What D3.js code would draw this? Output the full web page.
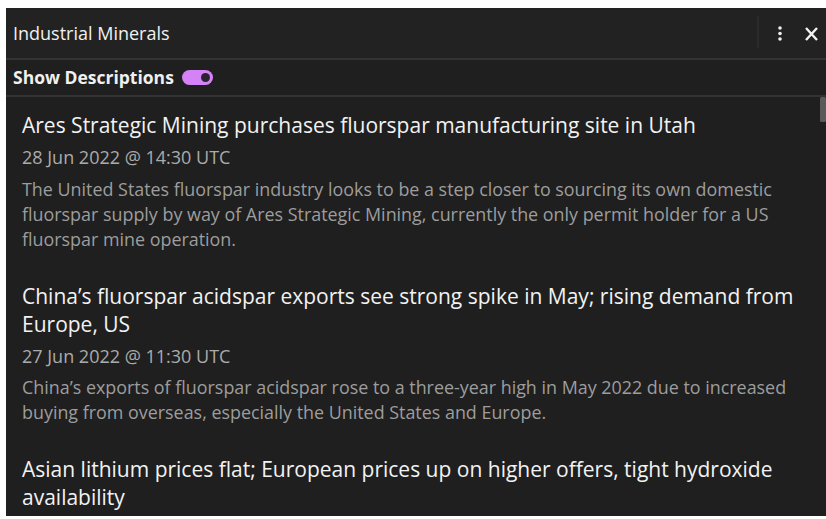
<!DOCTYPE html>
<html>
<head>
<meta charset="utf-8">
<script src="https://cdn.jsdelivr.net/npm/d3@7"></script>
<style>
  html, body { margin: 0; padding: 0; background: #fff; }
  svg { display: block; }
  text { font-family: "Open Sans", "Noto Sans", sans-serif; }
</style>
</head>
<body>
<svg id="panel" width="826" height="519"></svg>
<script>
// panel content
const panelTitle = 'Industrial Minerals';
const toggleLabel = 'Show Descriptions';

const headlines = [
    ['Ares Strategic Mining purchases fluorspar manufacturing site in Utah'],
    ['China\u2019s fluorspar acidspar exports see strong spike in May; rising demand from', 'Europe, US'],
    ['Asian lithium prices flat; European prices up on higher offers, tight hydroxide', 'availability']
];
const dates = ['28 Jun 2022 @ 14:30 UTC', '27 Jun 2022 @ 11:30 UTC', ''];
const descriptions = [
    ['The United States fluorspar industry looks to be a step closer to sourcing its own domestic',
     'fluorspar supply by way of Ares Strategic Mining, currently the only permit holder for a US',
     'fluorspar mine operation.'],
    ['China\u2019s exports of fluorspar acidspar rose to a three-year high in May 2022 due to increased',
     'buying from overseas, especially the United States and Europe.'],
    []
];

const svg = d3.select('#panel');

// outer frame
svg.append('rect').attr('x', 6).attr('y', 8).attr('width', 820).attr('height', 508).attr('fill', '#1f1f1f');

// header bar
svg.append('rect').attr('x', 6).attr('y', 8).attr('width', 820).attr('height', 51).attr('fill', '#222222');
svg.append('line').attr('x1', 6).attr('x2', 826).attr('y1', 59).attr('y2', 59).attr('stroke', '#333').attr('stroke-width', 2);
svg.append('line').attr('x1', 6).attr('x2', 826).attr('y1', 96).attr('y2', 96).attr('stroke', '#333').attr('stroke-width', 2);
svg.append('line').attr('x1', 758).attr('x2', 758).attr('y1', 16).attr('y2', 48).attr('stroke', '#2e2e2e').attr('stroke-width', 1.5);

svg.append('text').attr('x', 13).attr('y', 40).attr('fill', '#f0f0f0')
    .attr('font-size', 18).text(panelTitle);

// kebab menu dots
svg.append('g').selectAll('circle').data([0, 1, 2]).enter().append('circle')
    .attr('cx', 780).attr('cy', d => 28 + d * 5.5).attr('r', 1.8).attr('fill', '#eee');

// close icon
svg.append('path').attr('d', 'M806,28 L817,40 M817,28 L806,40')
    .attr('stroke', '#f2f2f2').attr('stroke-width', 2.4).attr('fill', 'none');

// toggle row
svg.append('text').attr('x', 13).attr('y', 84).attr('fill', '#f0f0f0')
    .attr('font-size', 17.5).attr('font-weight', 700).text(toggleLabel);
svg.append('rect').attr('x', 182).attr('y', 70).attr('width', 31).attr('height', 15).attr('rx', 7.5)
    .attr('fill', '#d482f5');
svg.append('circle').attr('cx', 205.5).attr('cy', 77.5).attr('r', 4.5).attr('fill', '#2a2230');

// scrollbar thumb
svg.append('rect').attr('x', 820).attr('y', 97).attr('width', 6).attr('height', 25).attr('rx', 1.5).attr('fill', '#5a5a5a');

// feed items, stacked top to bottom
const headLine = 28, dateGap = 31, descGap = 31.5, descLine = 25, itemGap = 58;
let cursor = 133;

headlines.forEach((h, i) => {
    const g = svg.append('g');
    h.forEach((line, j) => {
        g.append('text').attr('x', 22).attr('y', cursor + j * headLine)
            .attr('fill', '#f2f2f2').attr('font-size', 21).text(line);
    });
    cursor += (h.length - 1) * headLine;
    if (dates[i]) {
        cursor += dateGap;
        g.append('text').attr('x', 22).attr('y', cursor)
            .attr('fill', '#ababab').attr('font-size', 18).text(dates[i]);
    }
    descriptions[i].forEach((line, j) => {
        g.append('text').attr('x', 22).attr('y', cursor + descGap + j * descLine)
            .attr('fill', '#9d9d9d').attr('font-size', 17.9).text(line);
    });
    if (descriptions[i].length) cursor += descGap + (descriptions[i].length - 1) * descLine;
    cursor += itemGap;
});
</script>
</body>
</html>
